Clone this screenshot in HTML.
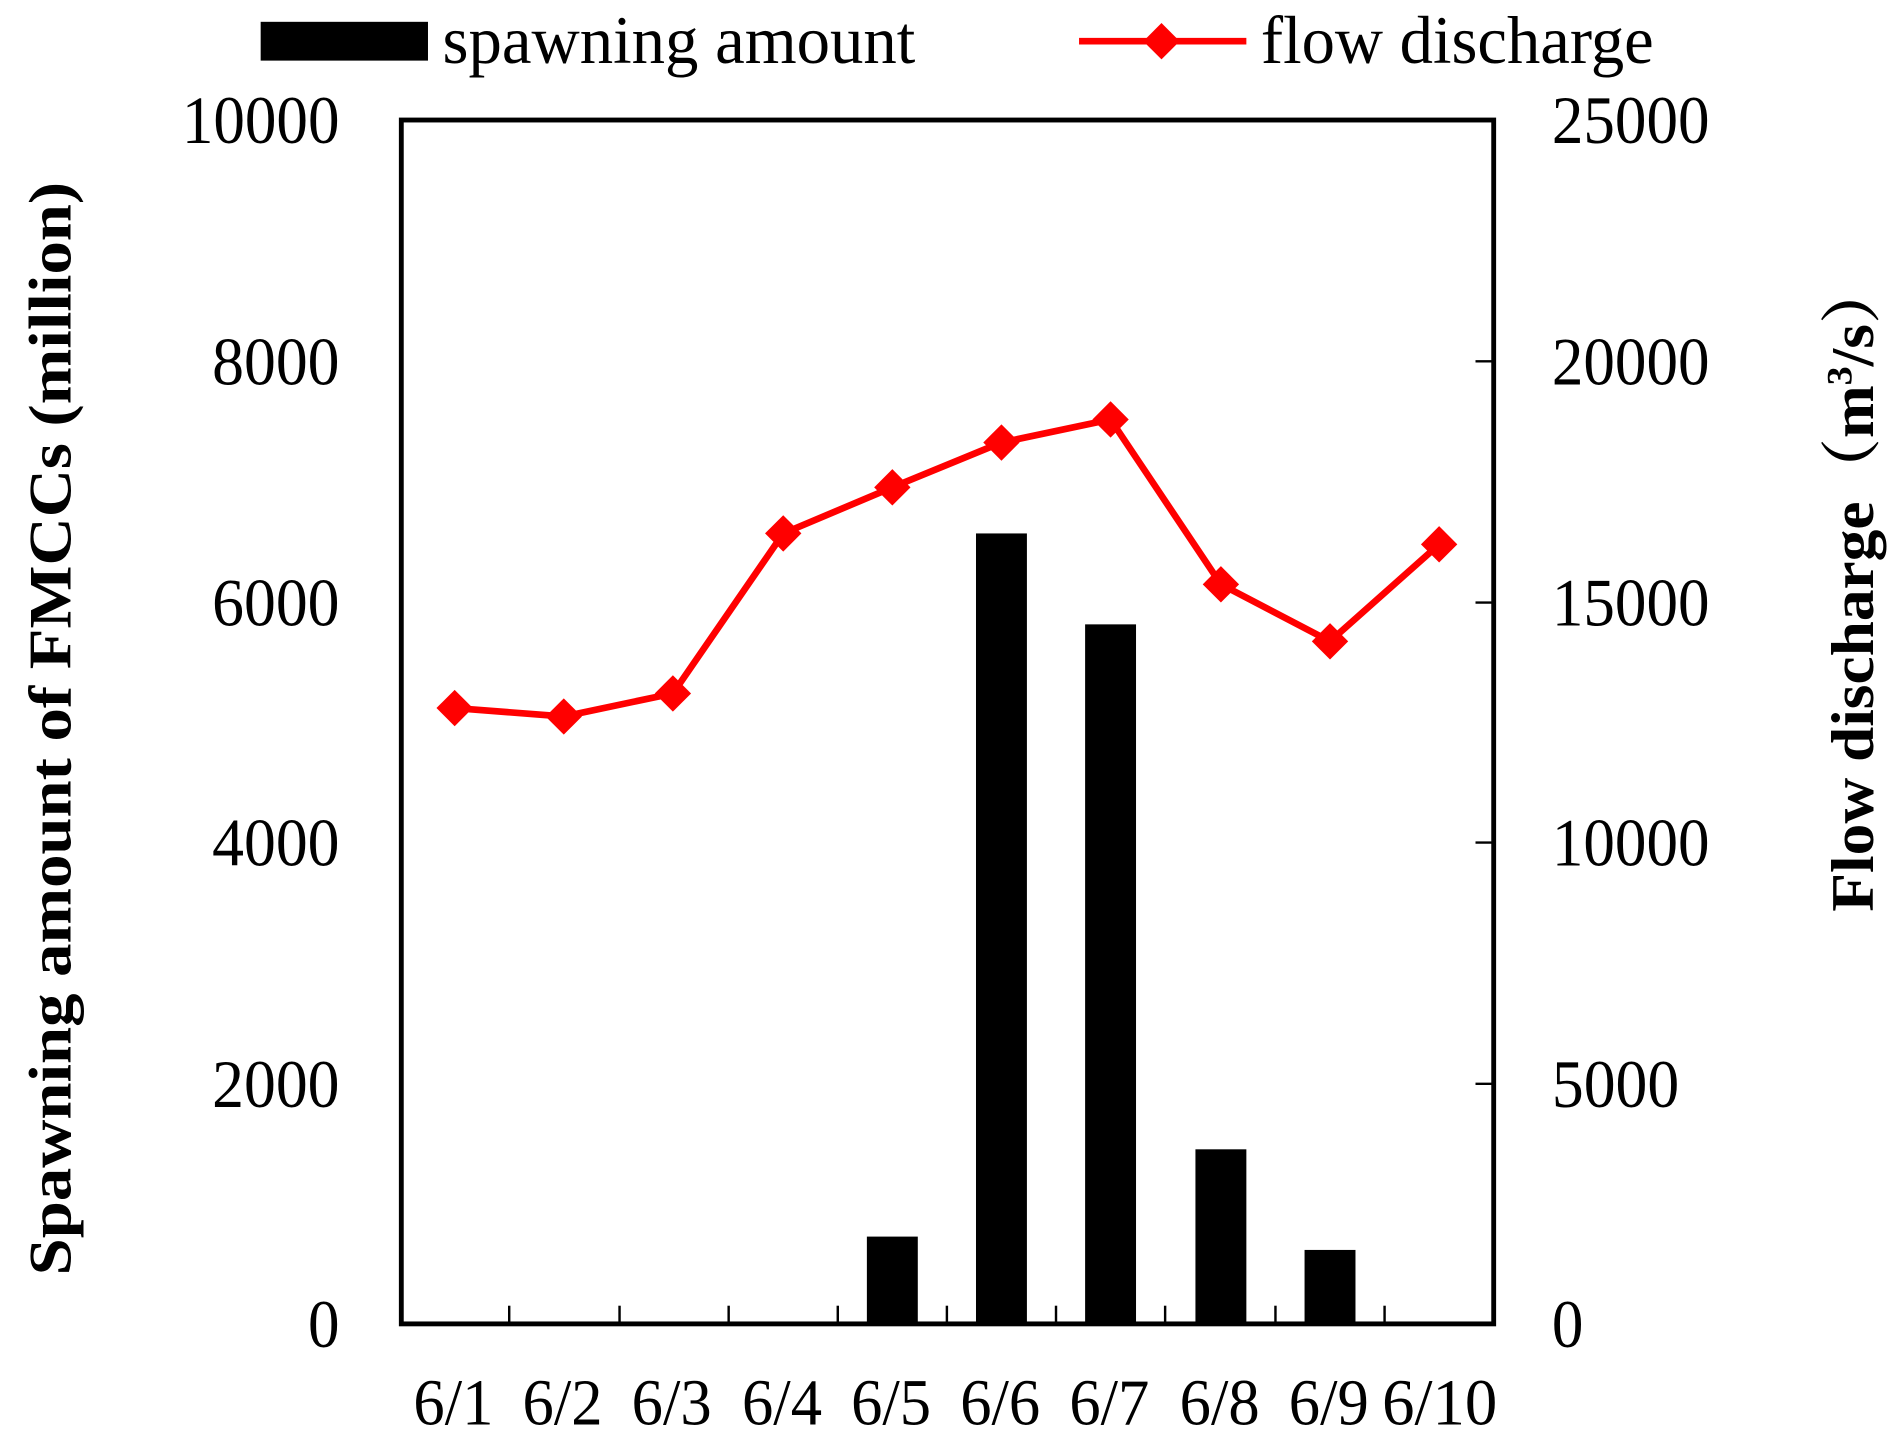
<!DOCTYPE html>
<html><head><style>html,body{margin:0;padding:0;background:#fff}svg{display:block}</style></head>
<body>
<svg width="1895" height="1433" viewBox="0 0 1563 1182" preserveAspectRatio="none" xmlns="http://www.w3.org/2000/svg" font-family="Liberation Serif, serif">
<rect x="0" y="0" width="1563" height="1182" fill="#fff"/>
<g fill="#000">
<rect x="715" y="1020" width="42" height="72"/>
<rect x="805" y="440" width="42" height="652"/>
<rect x="895" y="515" width="42" height="577"/>
<rect x="986" y="948" width="42" height="144"/>
<rect x="1076" y="1031" width="42" height="61"/>
</g>
<rect x="331" y="99" width="901" height="993" fill="none" stroke="#000" stroke-width="4"/>
<g stroke="#000" stroke-width="2">
<line x1="1217" y1="298" x2="1232" y2="298"/>
<line x1="1217" y1="497" x2="1232" y2="497"/>
<line x1="1217" y1="695" x2="1232" y2="695"/>
<line x1="1217" y1="894" x2="1232" y2="894"/>
<line x1="420" y1="1077" x2="420" y2="1092"/>
<line x1="511" y1="1077" x2="511" y2="1092"/>
<line x1="601" y1="1077" x2="601" y2="1092"/>
<line x1="691" y1="1077" x2="691" y2="1092"/>
<line x1="781" y1="1077" x2="781" y2="1092"/>
<line x1="871" y1="1077" x2="871" y2="1092"/>
<line x1="961" y1="1077" x2="961" y2="1092"/>
<line x1="1052" y1="1077" x2="1052" y2="1092"/>
<line x1="1142" y1="1077" x2="1142" y2="1092"/>
</g>
<polyline fill="none" stroke="#f00" stroke-width="5.5" points="375,584 465,591 555,572 646,440 736,402 826,365 916,346 1007,482 1097,529 1187,449"/>
<g fill="#f00">
<path d="M375,569 l15,15 l-15,15 l-15,-15z"/>
<path d="M465,576 l15,15 l-15,15 l-15,-15z"/>
<path d="M555,557 l15,15 l-15,15 l-15,-15z"/>
<path d="M646,425 l15,15 l-15,15 l-15,-15z"/>
<path d="M736,387 l15,15 l-15,15 l-15,-15z"/>
<path d="M826,350 l15,15 l-15,15 l-15,-15z"/>
<path d="M916,331 l15,15 l-15,15 l-15,-15z"/>
<path d="M1007,467 l15,15 l-15,15 l-15,-15z"/>
<path d="M1097,514 l15,15 l-15,15 l-15,-15z"/>
<path d="M1187,434 l15,15 l-15,15 l-15,-15z"/>
</g>
<g font-size="56" fill="#000" lengthAdjust="spacingAndGlyphs">
<text x="150" y="118" textLength="130" lengthAdjust="spacingAndGlyphs">10000</text>
<text x="175" y="317" textLength="105" lengthAdjust="spacingAndGlyphs">8000</text>
<text x="175" y="516" textLength="105" lengthAdjust="spacingAndGlyphs">6000</text>
<text x="175" y="714" textLength="105" lengthAdjust="spacingAndGlyphs">4000</text>
<text x="175" y="913" textLength="105" lengthAdjust="spacingAndGlyphs">2000</text>
<text x="254" y="1111" textLength="26" lengthAdjust="spacingAndGlyphs">0</text>
<text x="1280" y="118" textLength="130" lengthAdjust="spacingAndGlyphs">25000</text>
<text x="1280" y="317" textLength="130" lengthAdjust="spacingAndGlyphs">20000</text>
<text x="1280" y="516" textLength="130" lengthAdjust="spacingAndGlyphs">15000</text>
<text x="1280" y="714" textLength="130" lengthAdjust="spacingAndGlyphs">10000</text>
<text x="1280" y="913" textLength="105" lengthAdjust="spacingAndGlyphs">5000</text>
<text x="1280" y="1111" textLength="26" lengthAdjust="spacingAndGlyphs">0</text>
</g>
<g font-size="54" fill="#000">
<text x="341" y="1175" textLength="66" lengthAdjust="spacingAndGlyphs">6/1</text>
<text x="431" y="1175" textLength="66" lengthAdjust="spacingAndGlyphs">6/2</text>
<text x="521" y="1175" textLength="66" lengthAdjust="spacingAndGlyphs">6/3</text>
<text x="612" y="1175" textLength="66" lengthAdjust="spacingAndGlyphs">6/4</text>
<text x="702" y="1175" textLength="66" lengthAdjust="spacingAndGlyphs">6/5</text>
<text x="792" y="1175" textLength="66" lengthAdjust="spacingAndGlyphs">6/6</text>
<text x="882" y="1175" textLength="66" lengthAdjust="spacingAndGlyphs">6/7</text>
<text x="973" y="1175" textLength="66" lengthAdjust="spacingAndGlyphs">6/8</text>
<text x="1063" y="1175" textLength="66" lengthAdjust="spacingAndGlyphs">6/9</text>
<text x="1140" y="1175" textLength="95" lengthAdjust="spacingAndGlyphs">6/10</text>
</g>
<text transform="translate(58,1052) rotate(-90)" font-size="50" font-weight="bold" textLength="902" lengthAdjust="spacingAndGlyphs">Spawning amount of FMCCs (million)</text>
<text transform="translate(1545,752) rotate(-90)" font-size="50" font-weight="bold" textLength="537" lengthAdjust="spacingAndGlyphs" font-family="Liberation Serif, Noto Serif CJK SC, serif">Flow discharge（m<tspan font-size="30" dy="-18">3</tspan><tspan dy="18">/s）</tspan></text>
<rect x="215" y="18" width="138" height="32" fill="#000"/>
<text x="365" y="52" font-size="56" textLength="390" lengthAdjust="spacingAndGlyphs">spawning amount</text>
<line x1="890" y1="34" x2="1028" y2="34" stroke="#f00" stroke-width="5.5"/>
<path d="M958,19 l15,15 l-15,15 l-15,-15z" fill="#f00"/>
<text x="1040" y="52" font-size="56" textLength="324" lengthAdjust="spacingAndGlyphs">flow discharge</text>
</svg>
</body></html>
